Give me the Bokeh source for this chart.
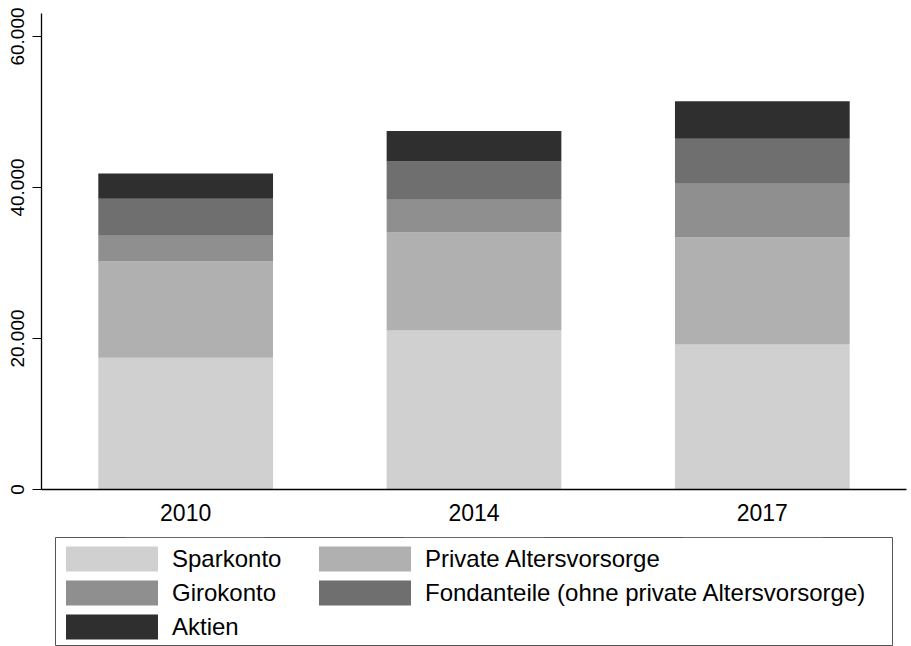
import math
from bokeh.plotting import figure
from bokeh.layouts import column, row
from bokeh.models import FactorRange, Range1d, FixedTicker, Legend, LegendItem
from bokeh.core.properties import value
from bokeh.embed import file_html
from bokeh.resources import INLINE

years = ["2010", "2014", "2017"]
series = ["Sparkonto", "Private Altersvorsorge", "Girokonto",
          "Fondanteile (ohne private Altersvorsorge)", "Aktien"]
sparkonto = [17440, 21060, 19200]
private_av = [12760, 12980, 14180]
girokonto = [3400, 4330, 7110]
fondanteile = [4900, 5070, 5960]
aktien = [3350, 4060, 4980]
y_ticks = [0, 20000, 40000, 60000]
y_tick_labels = ["0", "20.000", "40.000", "60.000"]
colors = ["#d0d0d0", "#b0b0b0", "#8f8f8f", "#6f6f6f", "#2f2f2f"]

keys = ["s0", "s1", "s2", "s3", "s4"]
data = {"year": years, "s0": sparkonto, "s1": private_av, "s2": girokonto,
        "s3": fondanteile, "s4": aktien}

FONT = "Liberation Sans"
Y_MAX = 63050
LEFT_W = 32          # width of the strip that holds the y tick labels
TOP_H = 536          # height of the chart row
FR_TOP, FR_BOTTOM = 13, 47

# ---- main chart ----
p = figure(x_range=FactorRange(*years, range_padding=0), y_range=Range1d(0, Y_MAX),
           width=911 - LEFT_W, height=TOP_H, output_backend="svg", toolbar_location=None,
           min_border_left=9, min_border_right=5, min_border_top=FR_TOP,
           min_border_bottom=FR_BOTTOM)
p.frame_align = False
p.outline_line_color = None
p.xgrid.visible = False
p.ygrid.visible = False

renderers = p.vbar_stack(keys, x="year", width=0.606, color=colors, source=data, line_color=None)

p.yaxis.ticker = FixedTicker(ticks=y_ticks, minor_ticks=[])
p.yaxis.major_tick_out = 9
p.yaxis.major_tick_in = 0
p.yaxis.minor_tick_out = 0
p.yaxis.major_label_standoff = 0
p.yaxis.major_label_text_font_size = "0px"
p.yaxis.major_label_text_color = None
p.yaxis.axis_line_color = "black"
p.yaxis.axis_line_width = 1.3
p.yaxis.major_tick_line_color = "black"

p.xaxis.major_tick_out = 0
p.xaxis.major_tick_in = 0
p.xaxis.minor_tick_out = 0
p.xaxis.major_label_standoff = 14
p.xaxis.major_label_text_font = FONT
p.xaxis.major_label_text_font_size = "23px"
p.xaxis.major_label_text_color = "black"
p.xaxis.axis_line_color = "black"
p.xaxis.axis_line_width = 1.3

# ---- strip with the rotated y tick labels (same value scale as the chart) ----
k = Y_MAX / (TOP_H - FR_TOP - FR_BOTTOM)
lab = figure(x_range=Range1d(0, LEFT_W),
             y_range=Range1d(-FR_BOTTOM * k, Y_MAX + FR_TOP * k),
             width=LEFT_W, height=TOP_H, output_backend="svg", toolbar_location=None,
             x_axis_location=None, y_axis_location=None,
             min_border_left=0, min_border_right=0, min_border_top=0, min_border_bottom=0)
lab.frame_align = False
lab.outline_line_color = None
lab.grid.visible = False
lab.text(x=17, y=y_ticks, text=y_tick_labels, angle=math.pi / 2,
         text_align="center", text_baseline="middle",
         text_font=value(FONT), text_font_size="19px", text_color="black")

# ---- legend panel (its bars lie outside its view; they only feed the legend) ----
q = figure(x_range=FactorRange(*years), y_range=Range1d(-2, -1), width=911, height=646 - TOP_H,
           output_backend="svg", toolbar_location=None,
           x_axis_location=None, y_axis_location=None,
           min_border_left=55, min_border_right=19, min_border_top=1, min_border_bottom=0)
q.frame_align = False
q.outline_line_color = "#555555"
q.outline_line_width = 1
q.grid.visible = False
swatches = q.vbar_stack(keys, x="year", width=0.5, color=colors, source=data, line_color=None)

items = [LegendItem(label=s, renderers=[r]) for s, r in zip(series, swatches)]
legend = Legend(items=items, orientation="horizontal", ncols=2,
                location=(-1, 4),
                glyph_width=115, glyph_height=31, label_standoff=3,
                label_width=132, spacing=3, padding=0, margin=0,
                label_text_font=FONT, label_text_font_size="24px",
                label_text_color="black",
                border_line_color=None,
                background_fill_color="white", background_fill_alpha=0)
q.add_layout(legend, "center")

layout = column(row(lab, p, spacing=0), q, spacing=0)
open("out.html", "w").write(file_html(layout, INLINE))
